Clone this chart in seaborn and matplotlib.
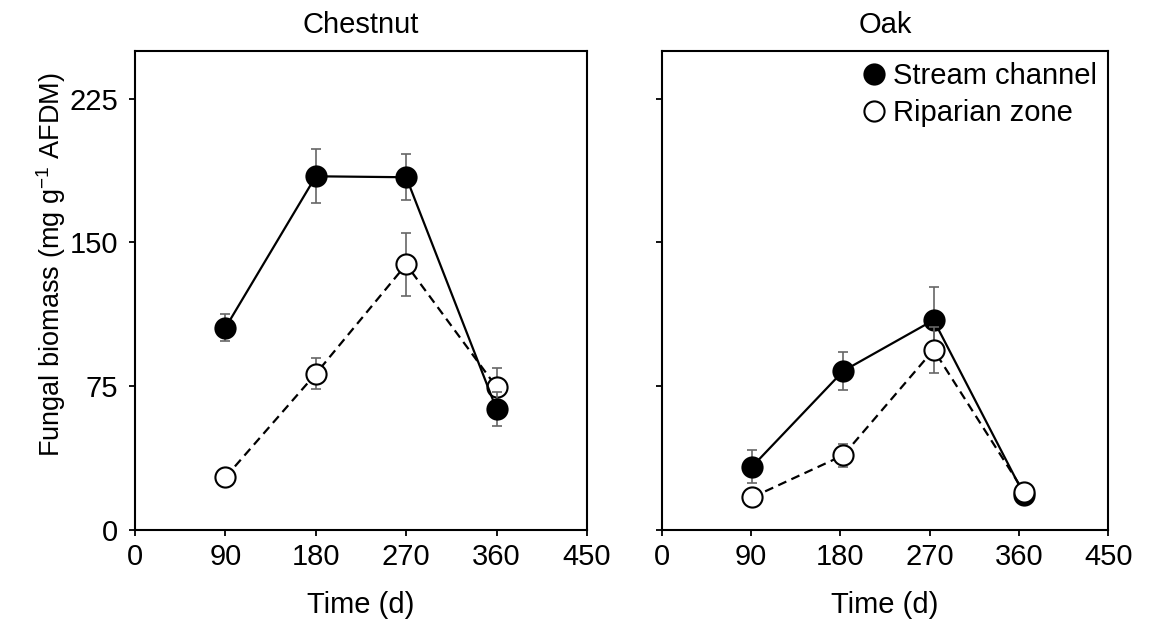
import numpy as np
import pandas as pd
import matplotlib
matplotlib.use("Agg")
import matplotlib.pyplot as plt
import seaborn as sns
from matplotlib.lines import Line2D

# =====================
# DATA
# =====================
days_chestnut = [90, 180, 270, 360]
days_oak = [91, 183, 274, 365]

chestnut_stream = [105.5, 184.5, 184.0, 63.0]
chestnut_stream_se = [7.0, 14.0, 12.0, 9.0]
chestnut_riparian = [27.5, 81.5, 138.5, 74.5]
chestnut_riparian_se = [1.0, 8.0, 16.5, 10.0]

oak_stream = [33.0, 83.0, 109.5, 18.5]
oak_stream_se = [8.5, 10.0, 17.0, 1.0]
oak_riparian = [17.0, 39.0, 94.0, 20.0]
oak_riparian_se = [1.0, 6.0, 12.0, 2.0]

panels = ["Chestnut", "Oak"]
sites = ["Stream channel", "Riparian zone"]

rows = []
for panel, days, stream, stream_se, rip, rip_se in [
    ("Chestnut", days_chestnut, chestnut_stream, chestnut_stream_se, chestnut_riparian, chestnut_riparian_se),
    ("Oak", days_oak, oak_stream, oak_stream_se, oak_riparian, oak_riparian_se),
]:
    for d, v, e in zip(days, stream, stream_se):
        rows.append({"panel": panel, "site": "Stream channel", "day": d, "biomass": v, "se": e})
    for d, v, e in zip(days, rip, rip_se):
        rows.append({"panel": panel, "site": "Riparian zone", "day": d, "biomass": v, "se": e})
df = pd.DataFrame(rows)

# =====================
# STYLE
# =====================
sns.set_style("ticks")
plt.rcParams["font.family"] = ["Liberation Sans", "DejaVu Sans"]
plt.rcParams["mathtext.fontset"] = "custom"
plt.rcParams["mathtext.rm"] = "Liberation Sans"
plt.rcParams["mathtext.it"] = "Liberation Sans:italic"
plt.rcParams["mathtext.default"] = "regular"
for key in ["text.color", "axes.labelcolor", "xtick.color", "ytick.color", "axes.edgecolor"]:
    plt.rcParams[key] = "black"

fs = 21
face = {"Stream channel": "black", "Riparian zone": "white"}
styles = {"Stream channel": "-", "Riparian zone": (0, (4, 2.5))}

fig = plt.figure(figsize=(11.51, 6.30), dpi=100)
ax1 = fig.add_axes([0.1173, 0.1587, 0.3927, 0.7608])
ax2 = fig.add_axes([0.5749, 0.1587, 0.3880, 0.7608])

# which series sits on top in each panel
top_site = {"Chestnut": "Stream channel", "Oak": "Riparian zone"}

for ax, panel in zip([ax1, ax2], panels):
    sub = df[df["panel"] == panel]
    for site in sites:
        s = sub[sub["site"] == site]
        z = 4 if site == top_site[panel] else 3
        ax.errorbar(s["day"], s["biomass"], yerr=s["se"], fmt="none",
                    ecolor="#666666", elinewidth=1.2, capsize=3.8, capthick=1.2, zorder=z - 0.5)
        sns.lineplot(data=s, x="day", y="biomass", ax=ax, color="black",
                     linewidth=1.6, zorder=z, legend=False, linestyle=styles[site],
                     marker="o", markersize=14.5, markerfacecolor=face[site],
                     markeredgecolor="black", markeredgewidth=1.5)

    ax.set_xlim(0, 450)
    ax.set_ylim(0, 250)
    ax.set_xticks([0, 90, 180, 270, 360, 450])
    ax.set_yticks([0, 75, 150, 225])
    ax.set_xlabel("Time (d)", fontsize=fs, labelpad=14)
    ax.set_title(panel, fontsize=fs, pad=12.5)
    ax.tick_params(axis="x", direction="out", length=4.5, width=1.3, labelsize=fs, pad=5)
    ax.tick_params(axis="y", direction="out", length=4, width=1.3, labelsize=fs, pad=8)
    for sp in ax.spines.values():
        sp.set_visible(True)
        sp.set_linewidth(1.5)

ax1.set_ylabel("Fungal biomass (mg g$^{-1}$ AFDM)", fontsize=19.5)
ax1.yaxis.set_label_coords(-0.148, 0.553)
ax2.set_ylabel("")
ax2.tick_params(labelleft=False)

handles = [
    Line2D([], [], linestyle="none", marker="o", markersize=14.5,
           markerfacecolor=face[s], markeredgecolor="black", markeredgewidth=1.5)
    for s in sites
]
ax2.legend(handles, sites, loc="upper right", frameon=False, fontsize=fs,
           handletextpad=0.05, borderaxespad=0.1, borderpad=0.3,
           labelspacing=0.3, handlelength=1.2)

plt.savefig("out.png", dpi=100)
plt.close()
